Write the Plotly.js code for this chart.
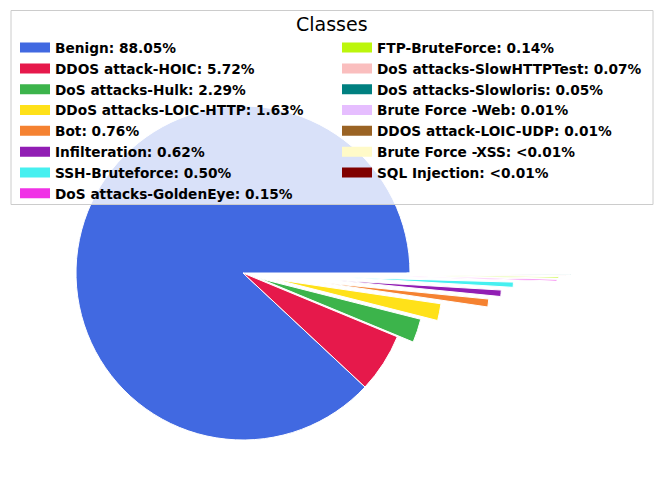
<!DOCTYPE html>
<html>
<head>
<meta charset="utf-8">
<script src="https://cdn.plot.ly/plotly-3.0.1.min.js"></script>
<style>
  html, body { margin: 0; padding: 0; overflow: hidden; background: #fff; width: 665px; height: 492px; }
  #grafico { position: absolute; left: -91px; top: -61px; }
</style>
</head>
<body>
<div id="grafico"></div>
<script>
'use strict';

/* Distribucion de clases - pastel con porciones separadas */

let clases = ['Benign', 'DDOS attack-HOIC', 'DoS attacks-Hulk', 'DDoS attacks-LOIC-HTTP', 'Bot',
    'Infilteration', 'SSH-Bruteforce', 'DoS attacks-GoldenEye', 'FTP-BruteForce',
    'DoS attacks-SlowHTTPTest', 'DoS attacks-Slowloris', 'Brute Force -Web',
    'DDOS attack-LOIC-UDP', 'Brute Force -XSS', 'SQL Injection'];
let porcentajes = [88.05, 5.72, 2.29, 1.63, 0.76, 0.62, 0.50, 0.15, 0.14, 0.07, 0.05, 0.012, 0.011, 0.005, 0.002];

let colores = ['#4169e1', '#e6194b', '#3cb44b', '#ffe119', '#f58231', '#911eb4', '#46f0f0', '#f032e6',
    '#bcf60c', '#fabebe', '#008080', '#e6beff', '#9a6324', '#fffac8', '#800000'];
let separacion = [0, 0, 0.1, 0.2, 0.48, 0.55, 0.62, 0.88, 0.89, 0.93, 0.96, 0.98, 1.0, 1.0, 1.0];

// el div es mas grande que la ventana para que el radio no se achique por el "pull"
const ANCHO = 756, ALTO = 670, DX = 91, DY = 61;
function px(x) { return (x + DX) / ANCHO; }
function py(y) { return 1 - (y + DY) / ALTO; }

let total = porcentajes.reduce((a, b) => a + b, 0);

function etiqueta(i) {
    let p = porcentajes[i];
    let txt = p < 0.01 ? '<0.01' : p.toFixed(2);
    return clases[i] + ': ' + txt + '%';
}

let datos = [{
    type: 'pie',
    values: porcentajes,
    labels: clases,
    sort: false,
    direction: 'counterclockwise',
    rotation: 90 + 360 * (1 - porcentajes[0] / total),
    pull: separacion,
    marker: { colors: colores, line: { color: 'white', width: 1 } },
    textinfo: 'none',
    showlegend: false,
    domain: { x: [0, 668 / ANCHO], y: [1 - 668 / ALTO, 1] }
}];

// entradas de la leyenda (dos columnas)
for (let i = 0; i < clases.length; i++) {
    datos.push({
        type: 'scatter',
        mode: 'lines',
        x: [null],
        y: [null],
        name: etiqueta(i),
        line: { color: colores[i], width: 10 },
        legend: i < 8 ? 'legend' : 'legend2',
        hoverinfo: 'skip'
    });
}

let fuenteLeyenda = { family: 'DejaVu Sans', size: 13.7, weight: 'bold', color: '#000' };

let layout = {
    width: ANCHO,
    height: ALTO,
    margin: { l: 0, r: 0, t: 0, b: 0, autoexpand: false },
    paper_bgcolor: 'white',
    plot_bgcolor: 'white',
    xaxis: { visible: false },
    yaxis: { visible: false },
    legend: {
        x: px(15), y: py(32.2), xanchor: 'left', yanchor: 'top',
        bgcolor: 'rgba(0,0,0,0)', borderwidth: 0, font: fuenteLeyenda
    },
    legend2: {
        x: px(337), y: py(32.2), xanchor: 'left', yanchor: 'top',
        bgcolor: 'rgba(0,0,0,0)', borderwidth: 0, font: fuenteLeyenda
    },
    shapes: [{
        type: 'rect', xref: 'paper', yref: 'paper', layer: 'above',
        x0: px(11), x1: px(653), y0: py(10.5), y1: py(204.5),
        line: { color: '#cccccc', width: 1 },
        fillcolor: 'rgba(255,255,255,0.8)'
    }],
    annotations: [{
        text: 'Classes', showarrow: false,
        xref: 'paper', yref: 'paper',
        x: px(332), y: py(24.5), xanchor: 'center', yanchor: 'middle',
        font: { family: 'DejaVu Sans', size: 19, color: '#000' }
    }]
};

Plotly.newPlot('grafico', datos, layout, { displayModeBar: false, responsive: false });
</script>
</body>
</html>
